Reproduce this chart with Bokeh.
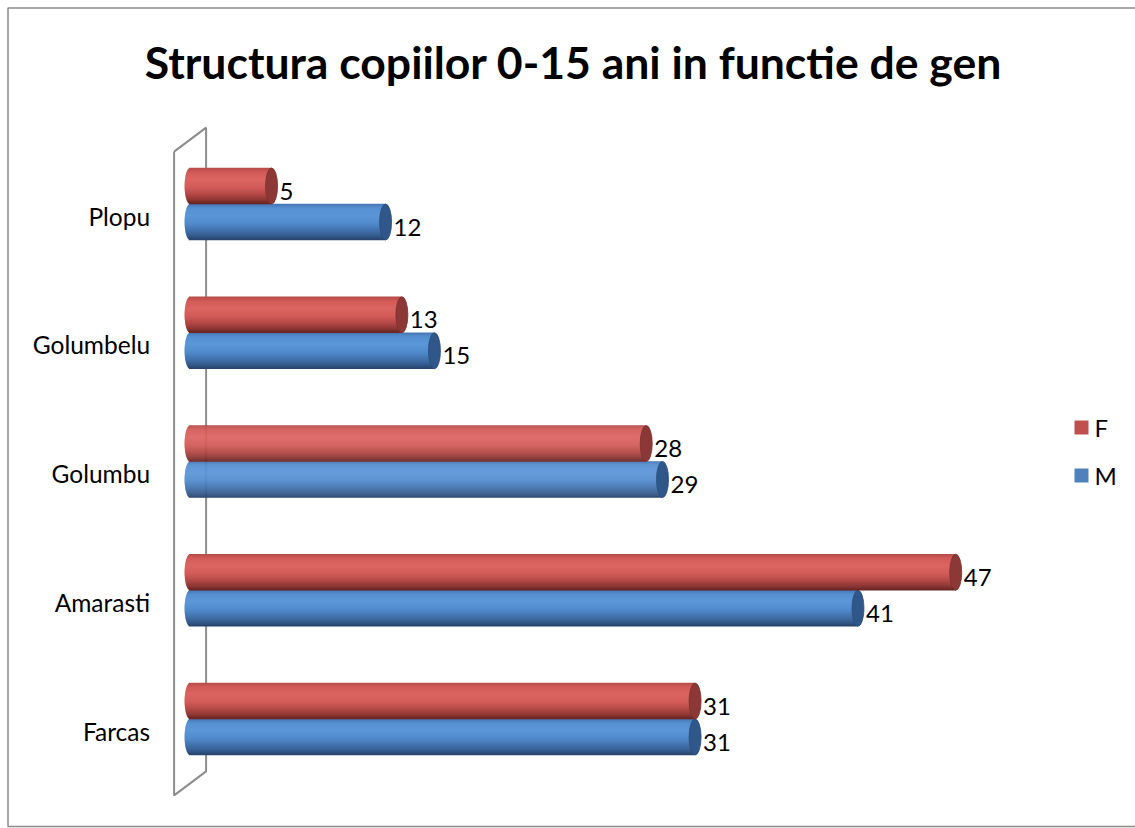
import numpy as np
from bokeh.plotting import figure
from bokeh.models import ColumnDataSource, Range1d
from bokeh.core.properties import value
from bokeh.embed import file_html
from bokeh.resources import INLINE

# ---------------- data ----------------
title_text = "Structura copiilor 0-15 ani in functie de gen"
categories = ["Farcas", "Amarasti", "Golumbu", "Golumbelu", "Plopu"]
series_names = ["F", "M"]
values_F = [31, 47, 28, 13, 5]
values_M = [31, 41, 29, 15, 12]

# ---------------- layout constants (pixels) ----------------
W, H = 1135, 828
X0 = 189.6      # pixel of value 0 from canvas left
SX = 16.29      # pixels per unit of value
Y0 = 718.5      # pixel (from top) of first category centre
SY = 128.75     # pixels per category
BAR_PX = 36     # cylinder thickness
CAP_PX = 12     # width of end ellipse
FONT = "Lato"

def xd(px):      # canvas pixel -> data x
    return (px - X0) / SX

def yd(px):      # canvas pixel (from top) -> data y
    return (Y0 - px) / SY

def ddx(px):     # pixel length -> data length (x)
    return px / SX

def ddy(px):     # pixel length -> data length (y)
    return px / SY

p = figure(width=W, height=H,
           x_range=Range1d(xd(0), xd(W)), y_range=Range1d(yd(H), yd(0)),
           output_backend="svg", toolbar_location=None,
           x_axis_location=None, y_axis_location=None, min_border=0,
           outline_line_color=None,
           background_fill_color="white", border_fill_color="white")
p.grid.visible = False

# chart-area border (left, top, bottom; right edge lies outside the window)
p.line([xd(W + 5), xd(7.5), xd(7.5), xd(W + 5)],
       [yd(7.5), yd(7.5), yd(826), yd(826)],
       line_color="#8a8a8a", line_width=1.5)

n = len(categories)
pos = np.arange(n, dtype=float)
h = ddy(BAR_PX)

# ---------------- 3D side wall ----------------
half = ddx(16)
shift = ddy(12)
lo, hi = -0.5, n - 0.5
wall_x = [-half, half, half, -half, -half]
wall_y = [hi - shift, hi + shift, lo + shift, lo - shift, hi - shift]
p.line(wall_x, wall_y, line_color="#8c8c8c", line_width=2)

# ---------------- cylinders ----------------
def hex2rgb(c):
    c = c.lstrip("#")
    return np.array([int(c[i:i + 2], 16) for i in (0, 2, 4)], dtype=float)

def interp(stops, cols, t):
    rgb = [np.interp(t, stops, [hex2rgb(c)[k] for c in cols]) for k in range(3)]
    return "#%02x%02x%02x" % tuple(int(round(v)) for v in rgb)

stops = [0, .12, .32, .55, .75, .9, 1]
red_cols = ["#b44a47", "#d25a57", "#dc6461", "#d25b58", "#b14744", "#8a3532", "#662422"]
blue_cols = ["#4574b4", "#5590d1", "#5b97d9", "#518acb", "#4170ab", "#335a8a", "#26426a"]

NB = 36
A_PX = 5.5

def cylinder(vals, centers, cols, cap_fill, cap_line):
    ys, lefts, rights, colors = [], [], [], []
    for v, c in zip(vals, centers):
        for k in range(NB):
            t = (k + 0.5) / NB
            s = 2 * t - 1
            ys.append(c + h / 2 - t * h)
            lefts.append(-ddx(A_PX * np.sqrt(max(0.0, 1 - s * s))))
            rights.append(v)
            colors.append(interp(stops, cols, t))
    src = ColumnDataSource(dict(y=ys, left=lefts, right=rights, color=colors))
    p.hbar(y="y", left="left", right="right", height=h / NB * 1.6,
           fill_color="color", line_color=None, source=src)
    p.ellipse(x=vals, y=list(centers), width=CAP_PX, width_units="screen",
              height=h, fill_color=cap_fill, line_color=cap_line, line_width=0.8)

cen_F = pos + h / 2
cen_M = pos - h / 2
cylinder(values_M, cen_M, blue_cols, "#30578a", "#2a4c78")
cylinder(values_F, cen_F, red_cols, "#8c3836", "#7a302e")

# ---------------- value labels ----------------
for vals, cen in ((values_F, cen_F), (values_M, cen_M)):
    p.text(x=vals, y=list(cen), text=[str(v) for v in vals],
           x_offset=8, y_offset=5, text_align="left", text_baseline="middle",
           text_font=value(FONT), text_font_size="24px", text_color="#000000")

# ---------------- category labels ----------------
p.text(x=[0] * n, y=list(pos), text=categories, x_offset=-40, y_offset=12,
       text_align="right", text_baseline="middle",
       text_font=value(FONT), text_font_size="24.5px", text_color="#000000")

# ---------------- title ----------------
p.text(x=[xd(573)], y=[yd(60.5)], text=[title_text], text_align="center",
       text_baseline="middle", text_font=value(FONT), text_font_style="bold",
       text_font_size="44.5px", text_color="#000000")

# ---------------- legend ----------------
leg_cols = ["#C0504D", "#4F81BD"]
leg_y = [yd(427), yd(475)]
leg_x = [xd(1081)] * 2
p.rect(x=leg_x, y=leg_y, width=14, height=14, width_units="screen",
       height_units="screen", fill_color=leg_cols, line_color=None)
p.text(x=leg_x, y=leg_y, text=series_names, x_offset=13, y_offset=0,
       text_align="left", text_baseline="middle",
       text_font=value(FONT), text_font_size="24px", text_color="#000000")

open("out.html", "w").write(file_html(p, INLINE))
